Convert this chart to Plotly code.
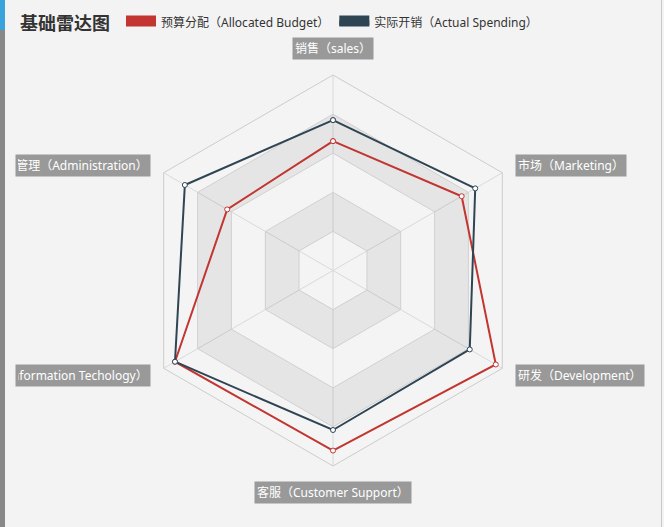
import math
import plotly.graph_objects as go

# ─── Data ─────────────────────────────────────────────────────────────────────
indicators = [
    "销售（sales）",
    "管理（Administration）",
    "信息技术（Information Techology）",
    "客服（Customer Support）",
    "研发（Development）",
    "市场（Marketing）",
]
max_values = [6500, 16000, 30000, 38000, 52000, 25000]
budget = [4300, 10000, 28000, 35000, 50000, 19000]
spending = [5000, 14000, 28000, 31000, 42000, 21000]
series_names = ["预算分配（Allocated Budget）", "实际开销（Actual Spending）"]
colors = ["#c23531", "#2f4554"]
split_levels = [0.2, 0.4, 0.6, 0.8, 1.0]

FONT = "Noto Sans, Noto Sans CJK SC, sans-serif"
W, H = 664, 527
CX, CY, R = 333, 270.5, 195.5   # radar centre / radius in px
CLIP_X = 15                      # left edge of the chart container
PAD = 2

fig = go.Figure()

# ─── Split areas (alternating bands) ─────────────────────────────────────────
area_colors = ["rgba(250,250,250,0.3)", "rgba(200,200,200,0.3)"]
n = len(indicators)
inner = 0.0
for k, outer in enumerate(split_levels):
    rr, tt = [], []
    for i in range(n):
        a, b = indicators[i], indicators[(i + 1) % n]
        tt += [a, b, b, a, a, None]
        rr += [outer, outer, inner, inner, outer, None]
    fig.add_trace(go.Scatterpolar(
        r=rr, theta=tt, mode="none", fill="toself",
        fillcolor=area_colors[k % 2], hoverinfo="skip", showlegend=False,
    ))
    inner = outer

# ─── Series ───────────────────────────────────────────────────────────────────
for vals, name, col in zip([budget, spending], series_names, colors):
    norm = [v / m for v, m in zip(vals, max_values)]
    fig.add_trace(go.Scatterpolar(
        r=norm + norm[:1],
        theta=indicators + indicators[:1],
        customdata=vals + vals[:1],
        mode="lines+markers",
        name=name,
        legendgroup=name,
        showlegend=False,
        line=dict(color=col, width=2),
        marker=dict(size=5, color="white", line=dict(color=col, width=1)),
        hovertemplate="%{theta}: %{customdata}<extra>" + name + "</extra>",
    ))
    # legend swatch
    fig.add_trace(go.Scatterpolar(
        r=[None], theta=[None], mode="lines", fill="toself",
        fillcolor=col, line=dict(color=col, width=14),
        name=name, legendgroup=name, showlegend=True, hoverinfo="skip",
    ))

# ─── Indicator name labels ───────────────────────────────────────────────────
angles = [90, 150, 210, 270, 330, 30]
gap = R + 15
for txt, ang in zip(indicators, angles):
    dx = gap * math.cos(math.radians(ang))
    dy = gap * math.sin(math.radians(ang))
    extra = {}
    if abs(dx) < 1:
        xa = "center"
        ya = "bottom" if dy > 0 else "top"
    else:
        xa = "right" if dx < 0 else "left"
        ya = "middle"
    if dx < -1:
        # container clips the left side of these labels
        extra = dict(width=(CX + dx) - CLIP_X - 2 * (PAD + 1), align="right")
    fig.add_annotation(
        x=(CX + dx) / W, y=(H - CY + dy) / H, xref="paper", yref="paper",
        text=txt, showarrow=False, xanchor=xa, yanchor=ya,
        font=dict(family=FONT, size=12, color="white"),
        bgcolor="#999999", borderpad=PAD, **extra,
    )

# ─── Layout ──────────────────────────────────────────────────────────────────
fig.update_layout(
    width=W, height=H,
    margin=dict(l=0, r=0, t=0, b=0),
    paper_bgcolor="#f3f3f3",
    plot_bgcolor="#f3f3f3",
    font=dict(family=FONT, size=12, color="#333"),
    title=dict(
        text="<b>基础雷达图</b>", x=20 / W, xanchor="left",
        y=1 - 24 / H, yanchor="middle",
        font=dict(family="Noto Sans CJK SC", size=18, color="#333"),
    ),
    legend=dict(
        orientation="h", x=0.5, xanchor="center", y=1 - 8 / H, yanchor="top",
        bgcolor="rgba(0,0,0,0)", font=dict(size=12, color="#333"),
        itemwidth=30,
    ),
    polar=dict(
        domain=dict(x=[(CX - R) / W, (CX + R) / W],
                    y=[(H - CY - R) / H, (H - CY + R) / H]),
        bgcolor="rgba(0,0,0,0)",
        gridshape="linear",
        radialaxis=dict(range=[0, 1], tickvals=split_levels, showticklabels=False,
                        ticks="", showline=False, gridcolor="#cccccc", gridwidth=1),
        angularaxis=dict(rotation=90, direction="counterclockwise",
                         categoryorder="array", categoryarray=indicators,
                         showticklabels=False, ticks="",
                         gridcolor="#cccccc", linecolor="#cccccc", showline=True),
    ),
    shapes=[
        dict(type="rect", xref="paper", yref="paper", x0=0, x1=5 / W,
             y0=1 - 30 / H, y1=1, fillcolor="#3aa3dc", line_width=0),
        dict(type="rect", xref="paper", yref="paper", x0=0, x1=5 / W,
             y0=0, y1=1 - 30 / H, fillcolor="#888888", line_width=0),
        dict(type="line", xref="paper", yref="paper", x0=661.5 / W, x1=661.5 / W,
             y0=0, y1=1, line=dict(color="#c8c8c8", width=1)),
    ],
)

fig.write_html("out.html", config={"displayModeBar": False},
               post_script="document.body.style.margin='0';")
